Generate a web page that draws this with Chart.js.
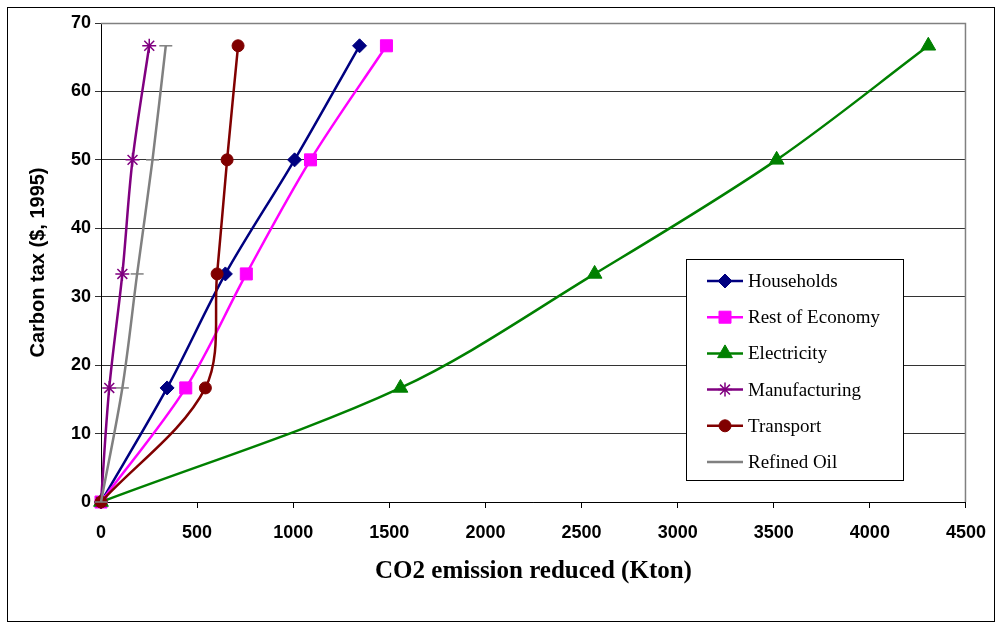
<!DOCTYPE html>
<html>
<head>
<meta charset="utf-8">
<script src="https://cdn.jsdelivr.net/npm/chart.js@4"></script>
<style>
  body { margin: 0; background: #fff; }
  #wrap { width: 1000px; height: 628px; position: relative; }
</style>
</head>
<body>
<div id="wrap"><canvas id="taxChart"></canvas></div>
<script>
// carbon tax levels ($, 1995) used by every series
var taxLevels = [0, 16.67, 33.33, 50, 66.67];

// CO2 emission reduced (Kton)
var households    = [0, 344, 647, 1007, 1345];
var restOfEconomy = [0, 441, 756, 1090, 1485];
var electricity   = [0, 1558, 2568, 3515, 4304];
var manufacturing = [0, 43, 111, 164, 251];
var transport     = [0, 543, 604, 656, 713];
var refinedOil    = [0, 111, 188, 268, 337];

var seriesNames = ['Households', 'Rest of Economy', 'Electricity', 'Manufacturing', 'Transport', 'Refined Oil'];

var xTicks = [0, 500, 1000, 1500, 2000, 2500, 3000, 3500, 4000, 4500];
var yTicks = [0, 10, 20, 30, 40, 50, 60, 70];

function toPoints(xs) {
    var pts = [];
    for (var i = 0; i < xs.length; i++) {
        pts.push({ x: xs[i], y: taxLevels[i] });
    }
    return pts;
}

function makeSet(name, xs, color, style, radius, order) {
    return {
        label: name,
        data: toPoints(xs),
        borderColor: color,
        backgroundColor: color,
        borderWidth: 2.5,
        showLine: true,
        tension: 0.33,
        pointStyle: style,
        pointRadius: radius,
        pointHoverRadius: radius,
        pointBorderWidth: style == 'star' || style == 'line' ? 1.5 : 1,
        pointBorderColor: color,
        pointBackgroundColor: color,
        clip: false,
        order: order
    };
}

var datasets = [
    makeSet(seriesNames[0], households, '#000080', 'rectRot', 7, 6),
    makeSet(seriesNames[1], restOfEconomy, '#ff00ff', 'rect', 8.5, 5),
    makeSet(seriesNames[2], electricity, '#008000', 'triangle', 8.5, 4),
    makeSet(seriesNames[3], manufacturing, '#800080', 'star', 7, 3),
    makeSet(seriesNames[4], transport, '#800000', 'circle', 6, 2),
    makeSet(seriesNames[5], refinedOil, '#808080', 'line', 6.5, 1)
];

// white page with a thin frame round it
var framePlugin = {
    id: 'frame',
    beforeDraw: function (chart) {
        var c = chart.ctx;
        c.save();
        c.fillStyle = '#fff';
        c.fillRect(0, 0, chart.width, chart.height);
        c.strokeStyle = '#000';
        c.lineWidth = 1;
        c.strokeRect(7.5, 7.5, 987, 614);
        c.restore();
    },
    beforeDatasetsDraw: function (chart) {
        var a = chart.chartArea;
        var c = chart.ctx;
        c.save();
        c.strokeStyle = '#808080';
        c.lineWidth = 1.5;
        c.beginPath();
        c.moveTo(a.left, a.top + 0.5);
        c.lineTo(a.right - 0.5, a.top + 0.5);
        c.lineTo(a.right - 0.5, a.bottom);
        c.stroke();
        c.restore();
    }
};

// legend box inside the plot, like the original
var boxLegend = {
    id: 'boxLegend',
    afterDraw: function (chart) {
        var c = chart.ctx;
        var left = 686.5, top = 259.5, w = 217, h = 221;
        c.save();
        c.fillStyle = '#fff';
        c.fillRect(left, top, w, h);
        c.strokeStyle = '#000';
        c.lineWidth = 1;
        c.strokeRect(left, top, w, h);
        c.font = '19px "Liberation Serif", "Times New Roman", serif';
        c.textBaseline = 'middle';
        for (var i = 0; i < chart.data.datasets.length; i++) {
            var ds = chart.data.datasets[i];
            var y = 281 + i * 36.2;
            c.strokeStyle = ds.borderColor;
            c.lineWidth = 2.5;
            c.beginPath();
            c.moveTo(707, y);
            c.lineTo(743, y);
            c.stroke();
            if (ds.pointStyle != 'line') {
                c.fillStyle = ds.pointBackgroundColor;
                c.strokeStyle = ds.pointBorderColor;
                c.lineWidth = ds.pointBorderWidth;
                Chart.helpers.drawPoint(c, {
                    pointStyle: ds.pointStyle,
                    radius: ds.pointRadius,
                    borderWidth: ds.pointBorderWidth,
                    rotation: 0
                }, 725, y);
            }
            c.fillStyle = '#000';
            c.fillText(ds.label, 748, y + 1);
        }
        c.restore();
    }
};

var ctx = document.getElementById('taxChart').getContext('2d');

var chart = new Chart(ctx, {
    type: 'scatter',
    data: { datasets: datasets },
    options: {
        responsive: true,
        maintainAspectRatio: false,
        animation: false,
        layout: { padding: { left: 0, top: 23, right: 31, bottom: 0 } },
        plugins: {
            legend: { display: false },
            tooltip: { enabled: false }
        },
        scales: {
            x: {
                type: 'linear',
                min: 0,
                max: 4500,
                afterFit: function (scale) { scale.height = 126; },
                afterBuildTicks: function (scale) {
                    scale.ticks = xTicks.map(function (v) { return { value: v }; });
                },
                grid: {
                    drawOnChartArea: false,
                    drawTicks: true,
                    tickLength: 6,
                    color: '#000'
                },
                border: { color: '#000', width: 1 },
                ticks: {
                    padding: 14,
                    color: '#000',
                    maxRotation: 0,
                    callback: function (v) { return String(v); },
                    font: { family: '"Liberation Sans", Arial, sans-serif', size: 18, weight: 'bold' }
                },
                title: {
                    display: true,
                    text: 'CO2 emission reduced (Kton)',
                    color: '#000',
                    padding: { top: 0, bottom: 41 },
                    font: { family: '"Liberation Serif", "Times New Roman", serif', size: 25, weight: 'bold' }
                }
            },
            y: {
                type: 'linear',
                min: 0,
                max: 70,
                afterFit: function (scale) { scale.width = 101; },
                afterBuildTicks: function (scale) {
                    scale.ticks = yTicks.map(function (v) { return { value: v }; });
                },
                grid: {
                    drawOnChartArea: true,
                    drawTicks: true,
                    tickLength: 6,
                    color: '#333'
                },
                border: { color: '#000', width: 1 },
                ticks: {
                    padding: 4,
                    color: '#000',
                    callback: function (v) { return String(v); },
                    font: { family: '"Liberation Sans", Arial, sans-serif', size: 18, weight: 'bold' }
                },
                title: {
                    display: true,
                    text: 'Carbon tax ($, 1995)',
                    color: '#000',
                    padding: { top: 26, bottom: 0 },
                    font: { family: '"Liberation Sans", Arial, sans-serif', size: 20, weight: 'bold' }
                }
            }
        }
    },
    plugins: [framePlugin, boxLegend]
});
</script>
</body>
</html>
